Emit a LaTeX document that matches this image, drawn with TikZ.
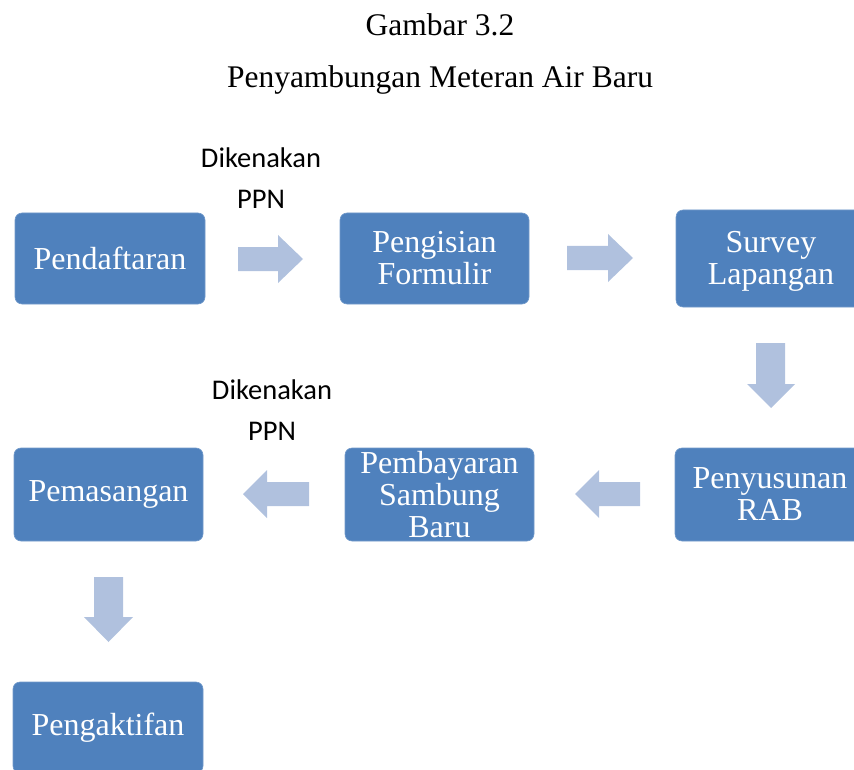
\documentclass[tikz,border=0pt]{standalone}
\usepackage{fontspec}
\setmainfont{Liberation Serif}
\newfontfamily\calib{Carlito}
\definecolor{boxblue}{HTML}{4F81BD}
\definecolor{arrblue}{HTML}{B0C1DE}
\tikzset{
  stepbox/.style={draw=boxblue!80!white, line width=0.6pt, fill=boxblue, rounded corners=7pt,
    text=white, align=center, inner sep=0pt,
    font=\fontsize{32}{32}\selectfont},
  boxtext/.style={text=white, align=center, inner sep=0pt, font=\fontsize{32}{32}\selectfont},
  blockarrow/.style={fill=arrblue, draw=none},
  titletext/.style={font=\fontsize{31.5}{32}\selectfont, inner sep=0pt},
  notetext/.style={font=\calib\fontsize{28.5}{41}\selectfont, align=center, inner sep=0pt}
}
\begin{document}
\begin{tikzpicture}[x=1pt,y=-1pt]
\useasboundingbox (0,0) rectangle (854,770);
\clip (0,0) rectangle (854,770);
% titles
\node[titletext] (t1) at (440,25) {Gambar 3.2};
\node[titletext] (t2) at (440,80) {Penyambungan Meteran Air Baru};
% boxes
\node[stepbox, minimum width=190pt, minimum height=91pt] (b1) at (110,258.5) {Pendaftaran};
\node[stepbox, minimum width=189pt, minimum height=91pt] (b2) at (434.5,258.5) {Pengisian\\Formulir};
\node[stepbox, minimum width=190pt, minimum height=97pt] (b3) at (771,258.5) {};
\node[boxtext] (b3t) at (771,261.5) {Survey\\Lapangan};
\node[stepbox, minimum width=190pt, minimum height=93pt] (b4) at (770,494.5) {Penyusunan\\RAB};
\node[stepbox, minimum width=189pt, minimum height=93pt] (b5) at (439.5,494.5) {Pembayaran\\Sambung\\Baru};
\node[stepbox, minimum width=189pt, minimum height=93pt] (b6) at (108.5,494.5) {Pemasangan};
\node[stepbox, minimum width=190pt, minimum height=91pt] (b7) at (108,727.5) {Pengaktifan};
% notes
\node[notetext] (n1) at (261,178) {Dikenakan\\PPN};
\node[notetext] (n2) at (272,410) {Dikenakan\\PPN};
% block arrows
\path[blockarrow] (238,247) -- (278,247) -- (278,235) -- (303,259) -- (278,283) -- (278,271) -- (238,271) -- cycle;
\path[blockarrow] (567,246) -- (608,246) -- (608,234) -- (633,258) -- (608,282) -- (608,270) -- (567,270) -- cycle;
\path[blockarrow] (756,343) -- (785,343) -- (785,384) -- (795,384) -- (771,408) -- (747,384) -- (756,384) -- cycle;
\path[blockarrow] (640,482) -- (599,482) -- (599,470) -- (575,494) -- (599,518) -- (599,506) -- (640,506) -- cycle;
\path[blockarrow] (309,482) -- (267,482) -- (267,470) -- (243,494) -- (267,518) -- (267,506) -- (309,506) -- cycle;
\path[blockarrow] (94,577) -- (123,577) -- (123,617) -- (133,617) -- (108.5,642) -- (84,617) -- (94,617) -- cycle;
\end{tikzpicture}
\end{document}
